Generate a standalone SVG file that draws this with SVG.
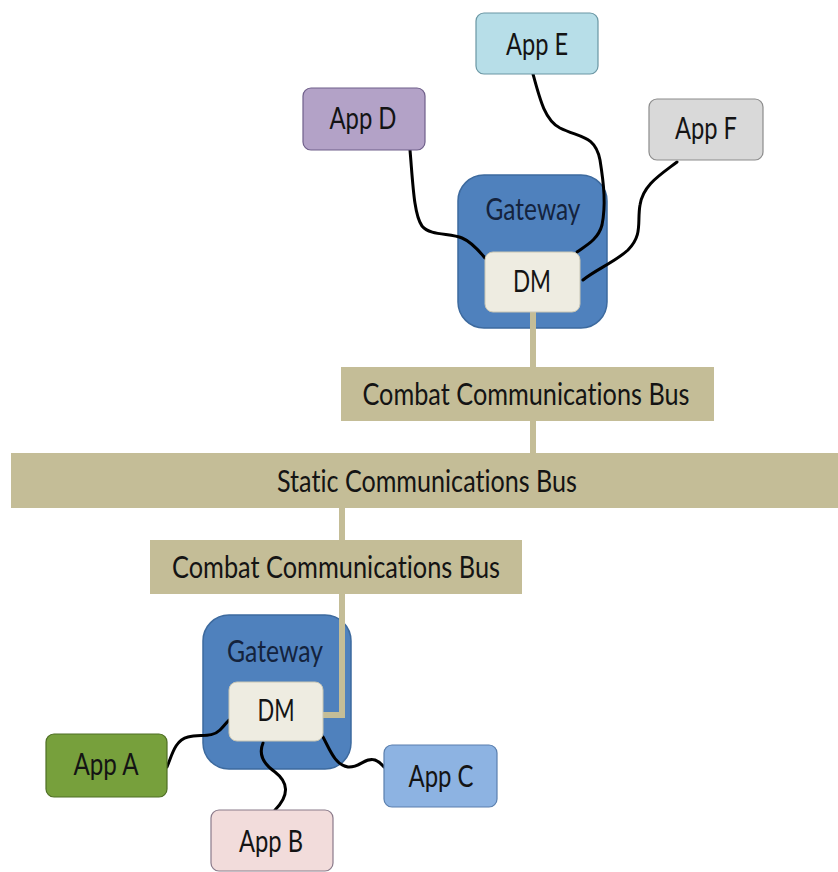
<svg xmlns="http://www.w3.org/2000/svg" width="838" height="872" viewBox="0 0 838 872">
<style>
text{font-family:Lato,"Open Sans","Liberation Sans",sans-serif;font-size:31px;fill:#141414;text-anchor:middle;font-variant-ligatures:none}
.gw{fill:#4f81bd;stroke:#3d6a9e;stroke-width:1.5}
.gwt{fill:#14233d}
.dm{fill:#eeece1;stroke:#c9c6b4;stroke-width:1}
.bus{fill:#c4bd97}
.link{fill:none;stroke:#000;stroke-width:3;stroke-linecap:round}
.bl{fill:none;stroke:#c4bd97;stroke-width:6}
</style>
<rect width="838" height="872" fill="#fff"/>
<g id="gateway-top"><rect class="gw" x="458" y="175" width="149" height="153" rx="26"/><text class="gwt" x="533" y="220" textLength="95" lengthAdjust="spacingAndGlyphs">Gateway</text></g>
<g id="gateway-bottom"><rect class="gw" x="203" y="615" width="148" height="154" rx="26"/><text class="gwt" x="275" y="662" textLength="96" lengthAdjust="spacingAndGlyphs">Gateway</text></g>
<g id="bus-combat-top"><rect class="bus" x="341" y="367" width="373" height="54"/><text x="526" y="405" textLength="327" lengthAdjust="spacingAndGlyphs">Combat Communications Bus</text></g>
<g id="bus-static"><rect class="bus" x="11" y="453" width="827" height="55"/><text x="427" y="492" textLength="300" lengthAdjust="spacingAndGlyphs">Static Communications Bus</text></g>
<g id="bus-combat-bottom"><rect class="bus" x="150" y="540" width="372" height="54"/><text x="336" y="578" textLength="328" lengthAdjust="spacingAndGlyphs">Combat Communications Bus</text></g>
<g id="connectors">
<path class="bl" d="M533,312 V367 M533,421 V453 M342,508 V540"/>
<path class="bl" d="M342,594 V715 H323"/>
<path class="link" d="M410,150 C413,185 414,215 422,226 C430,236 450,233 462,238 C472,242 480,252 485,258"/>
<path class="link" d="M533,74 C540,100 545,120 560,128 C580,138 595,135 600,160 C604,185 606,205 602,225 C598,240 585,246 577,252"/>
<path class="link" d="M677,162 C660,175 643,185 640,205 C637,222 643,235 628,250 C615,262 595,270 583,280"/>
<path class="link" d="M167,767 C172,755 175,740 188,737 C200,734 212,738 220,730 C225,725 227,722 229,720"/>
<path class="link" d="M263,743 C258,755 265,765 275,772 C288,782 290,795 275,810"/>
<path class="link" d="M323,737 C330,750 335,765 348,767 C360,768 365,757 375,760 C380,762 382,765 384,767"/>
</g>
<g id="dm-top"><rect class="dm" x="485" y="252" width="95" height="60" rx="8"/><text x="532" y="292" textLength="38" lengthAdjust="spacingAndGlyphs">DM</text></g>
<g id="dm-bottom"><rect class="dm" x="229" y="682" width="94" height="59" rx="8"/><text x="276" y="721" textLength="37" lengthAdjust="spacingAndGlyphs">DM</text></g>
<g id="app-d"><rect x="303" y="88" width="122" height="62" rx="8" fill="#b3a2c7" stroke="#6f5f8a" stroke-width="1.2"/><text x="363" y="129" textLength="67" lengthAdjust="spacingAndGlyphs">App D</text></g>
<g id="app-e"><rect x="476" y="13" width="122" height="61" rx="8" fill="#b7dee8" stroke="#6a96a3" stroke-width="1.2"/><text x="537" y="55" textLength="62" lengthAdjust="spacingAndGlyphs">App E</text></g>
<g id="app-f"><rect x="649" y="99" width="114" height="61" rx="8" fill="#d9d9d9" stroke="#8c8c8c" stroke-width="1.2"/><text x="706" y="139" textLength="62" lengthAdjust="spacingAndGlyphs">App F</text></g>
<g id="app-a"><rect x="46" y="734" width="121" height="63" rx="8" fill="#77a03c" stroke="#4e6e24" stroke-width="1.2"/><text x="106" y="775" textLength="65" lengthAdjust="spacingAndGlyphs">App A</text></g>
<g id="app-b"><rect x="211" y="810" width="122" height="61" rx="8" fill="#f2dcdb" stroke="#8a7a8a" stroke-width="1.2"/><text x="271" y="852" textLength="64" lengthAdjust="spacingAndGlyphs">App B</text></g>
<g id="app-c"><rect x="384" y="745" width="113" height="62" rx="8" fill="#8db3e2" stroke="#5a7fae" stroke-width="1.2"/><text x="441" y="787" textLength="65" lengthAdjust="spacingAndGlyphs">App C</text></g>
</svg>
